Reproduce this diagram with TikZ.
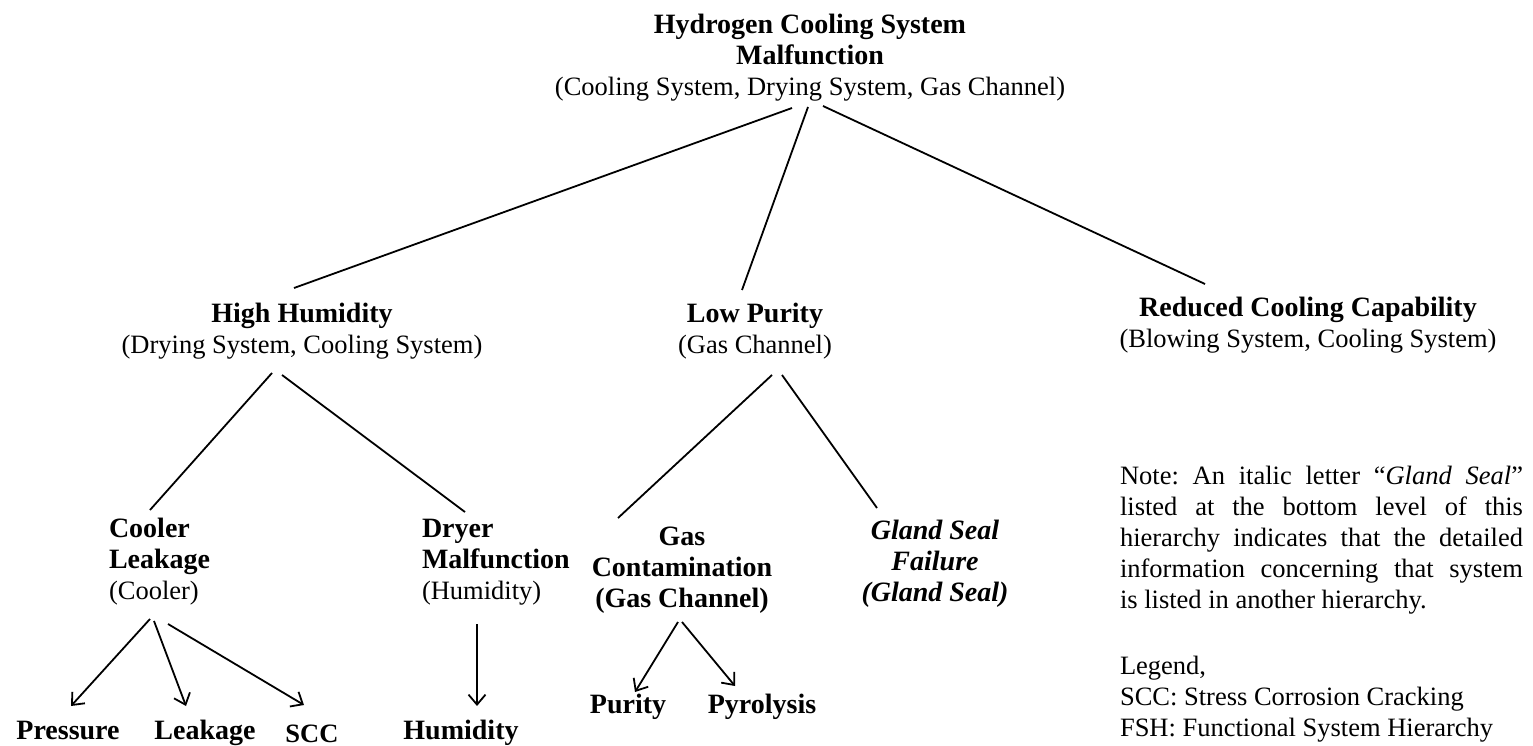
\documentclass[tikz,border=0pt]{standalone}
\usepackage{fontspec}
\setmainfont{Liberation Serif}
\usetikzlibrary{arrows.meta,calc}
% stacked lines; the first line sets the baseline of the box
\newcommand{\txtstack}[2][c]{\begin{tabular}[t]{@{}#1@{}}#2\end{tabular}}
\newcommand{\bfs}{\bfseries\fontsize{28}{31}\selectfont}
\frenchspacing
\begin{document}
\begin{tikzpicture}[x=1pt,y=-1pt,
  every node/.style={inner sep=0pt, outer sep=0pt,
    font=\fontsize{26.5}{31}\selectfont},
  leaf/.style={font=\bfs},
  link/.style={line width=1.8pt},
  arrowlink/.style={line width=1.8pt,
    -{Straight Barb[length=10pt,width=17pt,line width=1.8pt]}}
]
\useasboundingbox (0,0) rectangle (1533,746);

% --- hierarchy nodes ---
\node[anchor=base] (top) at (810,34)
  {\txtstack{\bfs Hydrogen Cooling System\\\bfs Malfunction\\(Cooling System, Drying System, Gas Channel)}};
\node[anchor=base] (hh) at (302,322)
  {\txtstack{\bfs High Humidity\\(Drying System, Cooling System)}};
\node[anchor=base] (lp) at (755,322)
  {\txtstack{\bfs Low Purity\\(Gas Channel)}};
\node[anchor=base] (rc) at (1308,316)
  {\txtstack{\bfs Reduced Cooling Capability\\(Blowing System, Cooling System)}};
\node[anchor=base west] (cl) at (109,537)
  {\txtstack[l]{\bfs Cooler\\\bfs Leakage\\(Cooler)}};
\node[anchor=base west] (dm) at (422,537)
  {\txtstack[l]{\bfs Dryer\\\bfs Malfunction\\(Humidity)}};
\node[anchor=base] (gc) at (682,545)
  {\txtstack{\bfs Gas\\\bfs Contamination\\\bfs (Gas Channel)}};
\node[anchor=base] (gs) at (935,539)
  {\txtstack{\bfs\itshape Gland Seal\\\bfs\itshape Failure\\\bfs\itshape (Gland Seal)}};

% --- bottom level items ---
\node[leaf,anchor=base] (pr) at (68,739) {Pressure};
\node[leaf,anchor=base] (lk) at (205,739) {Leakage};
\node[anchor=base,font=\bfseries\fontsize{26.5}{31}\selectfont] (scc) at (312,742) {SCC};
\node[leaf,anchor=base] (hu) at (461,739) {Humidity};
\node[leaf,anchor=base] (pu) at (628,713) {Purity};
\node[leaf,anchor=base] (py) at (762,713) {Pyrolysis};

% --- note and legend ---
\node[anchor=north west, text width=403pt, align=justify] (note) at (1120,462.3)
  {\strut Note: An italic letter ``\textit{Gland Seal}''\linebreak listed at the bottom level of this\linebreak
   hierarchy indicates that the detailed\linebreak information concerning that system\linebreak
   is listed in another hierarchy.};
\node[anchor=base west] (legend) at (1120,674)
  {\txtstack[l]{Legend,\\SCC: Stress Corrosion Cracking\\FSH: Functional System Hierarchy}};

% --- connectors ---
\draw[link] ($(top.base)+(-18,74)$) -- ($(hh.base)+(-8,-34)$);
\draw[link] ($(top.base)+(-2,73)$) -- ($(lp.base)+(-13,-32)$);
\draw[link] ($(top.base)+(13,72)$) -- ($(rc.base)+(-103,-32)$);

\draw[link] ($(hh.base)+(-30,51)$) -- ($(cl.base west)+(41,-27)$);
\draw[link] ($(hh.base)+(-20,53)$) -- ($(dm.base west)+(43,-25)$);

\draw[link] ($(lp.base)+(17,53)$) -- ($(gc.base)+(-64,-27)$);
\draw[link] ($(lp.base)+(27,53)$) -- ($(gs.base)+(-58,-31)$);

\draw[arrowlink] ($(cl.base west)+(41,82)$) -- ($(pr.base)+(3,-33)$);
\draw[arrowlink] ($(cl.base west)+(45,84)$) -- ($(lk.base)+(-19,-33)$);
\draw[arrowlink] ($(cl.base west)+(59,87)$) -- ($(scc.base)+(-8,-37)$);
\draw[arrowlink] ($(dm.base west)+(55,87)$) -- ($(hu.base)+(16,-33)$);
\draw[arrowlink] ($(gc.base)+(-4,77)$) -- ($(pu.base)+(7,-21)$);
\draw[arrowlink] ($(gc.base)+(0,77)$) -- ($(py.base)+(-27,-27)$);
\end{tikzpicture}
\end{document}
